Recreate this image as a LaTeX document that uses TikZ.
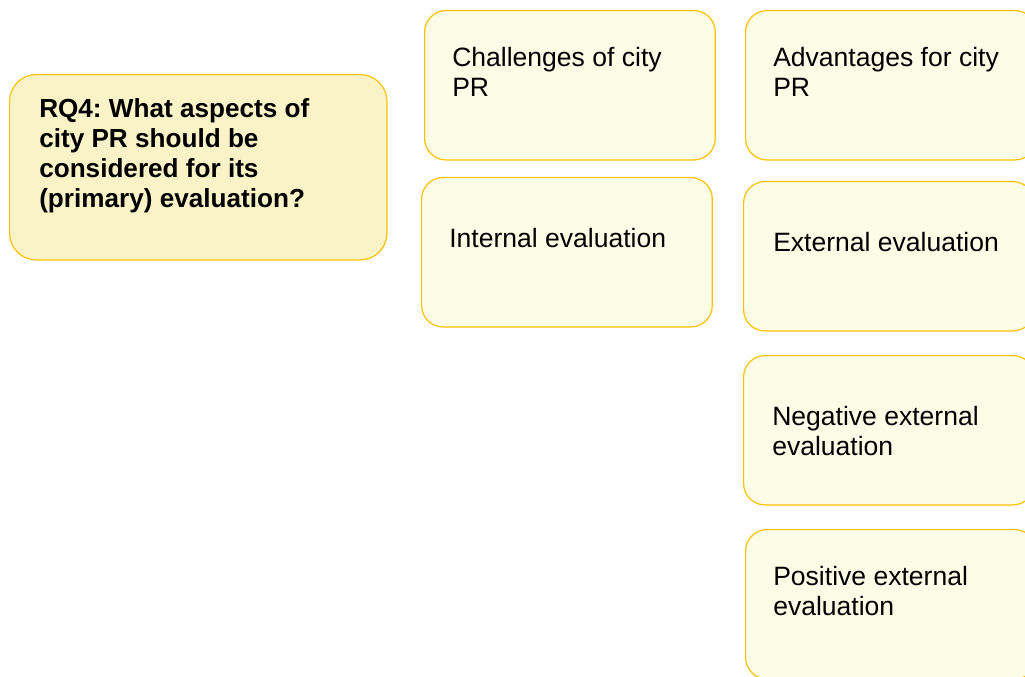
\documentclass[tikz,border=0pt]{standalone}
\usepackage{fontspec}
\setmainfont{Liberation Sans}
\definecolor{boxedge}{RGB}{255,192,0}
\definecolor{qfill}{RGB}{250,243,200}
\definecolor{cfill}{RGB}{252,253,230}
\frenchspacing
\begin{document}
\begin{tikzpicture}[x=0.75pt,y=-0.75pt,
  card/.style={draw=boxedge,line width=0.9pt,fill=cfill,rounded corners=16pt,
    anchor=north west,inner sep=0pt},
  qcard/.style={card,fill=qfill,rounded corners=20pt},
  cardtext/.style={anchor=base west,inner sep=0pt,align=left,
    font=\fontsize{19.9}{22.5}\selectfont},
  qtext/.style={cardtext,font=\fontsize{19.6}{22.6}\selectfont\bfseries}]
\useasboundingbox (0,0) rectangle (1025,677);
\clip (0,0) rectangle (1025,677);
% question box
\node[qcard,minimum width=283pt,minimum height=139pt] (q) at (9,74) {};
\node[qtext] (qt) at (39,208) {RQ4: What aspects of\\city PR should be\\considered for its\\(primary) evaluation?};
% middle column
\node[card,minimum width=218pt,minimum height=112pt] (chal) at (424,10) {};
\node[cardtext] (chalt) at (452,97) {Challenges of city\\PR};
\node[card,minimum width=218pt,minimum height=112pt] (int) at (421,177) {};
\node[cardtext] (intt) at (449,248) {Internal evaluation};
% right column
\node[card,minimum width=218pt,minimum height=112pt] (adv) at (745,10) {};
\node[cardtext] (advt) at (773,97) {Advantages for city\\PR};
\node[card,minimum width=218pt,minimum height=112pt] (ext) at (743,181) {};
\node[cardtext] (extt) at (773,252) {External evaluation};
\node[card,minimum width=218pt,minimum height=112pt] (neg) at (743,355) {};
\node[cardtext] (negt) at (772,455) {Negative external\\evaluation};
\node[card,minimum width=218pt,minimum height=112pt] (pos) at (745,529) {};
\node[cardtext] (post) at (773,615) {Positive external\\evaluation};
\end{tikzpicture}
\end{document}
